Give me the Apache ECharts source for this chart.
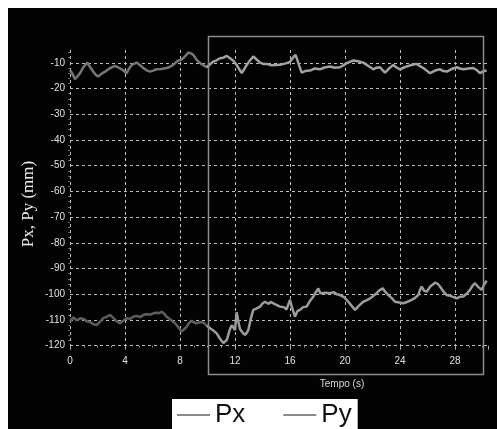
<!DOCTYPE html>
<html>
<head>
<meta charset="utf-8">
<script src="https://cdn.jsdelivr.net/npm/echarts@6/dist/echarts.min.js"></script>
<style>
html,body{margin:0;padding:0;background:#fff;}
#c{width:497px;height:429px;}
</style>
</head>
<body>
<div id="c"></div>
<script>
// ---- data ----
var pyTime = [0.0,0.2,0.36,0.55,0.73,1.0,1.26,1.45,1.69,1.9,2.06,2.3,2.55,2.9,3.27,3.5,3.76,3.95,4.12,4.3,4.49,4.85,5.1,5.33,5.6,5.82,6.05,6.3,6.65,7.03,7.25,7.51,7.7,7.88,8.05,8.24,8.45,8.6,8.8,8.97,9.15,9.33,9.6,9.94,10.2,10.42,10.65,10.91,11.15,11.4,11.64,11.88,12.12,12.3,12.49,12.65,12.85,13.1,13.33,13.55,13.82,14.05,14.3,14.6,15.03,15.4,15.76,16.0,16.24,16.4,16.49,16.65,16.85,17.1,17.45,17.8,18.18,18.5,18.91,19.25,19.64,19.9,20.12,20.35,20.6,20.95,21.33,21.7,22.06,22.3,22.55,22.75,22.91,23.2,23.51,23.75,24.0,24.25,24.49,24.85,25.21,25.45,25.69,25.95,26.18,26.55,26.91,27.15,27.4,27.75,28.12,28.35,28.6,29.0,29.33,29.6,29.82,30.05,30.3];
var pyVal = [-12.7,-14.5,-16.3,-15.2,-14.0,-11.5,-9.9,-11.6,-13.4,-14.8,-15.3,-14.2,-13.4,-12.1,-11.2,-11.8,-12.5,-13.3,-14.0,-12.2,-10.8,-9.9,-10.9,-12.0,-13.0,-13.4,-13.0,-12.5,-12.4,-12.0,-11.6,-10.8,-9.8,-9.1,-8.9,-8.2,-7.0,-6.0,-6.3,-6.9,-8.4,-9.5,-10.6,-11.7,-10.5,-9.5,-9.0,-8.2,-8.0,-7.3,-8.2,-9.2,-10.8,-12.4,-14.0,-12.6,-10.8,-9.0,-7.5,-8.6,-9.9,-10.4,-10.4,-10.9,-10.8,-10.6,-10.1,-9.6,-7.8,-6.9,-8.2,-10.8,-13.8,-13.2,-13.0,-12.2,-12.5,-11.8,-11.4,-11.9,-11.7,-10.9,-10.1,-9.6,-9.1,-9.4,-9.9,-11.2,-12.5,-11.9,-11.7,-12.9,-13.8,-12.2,-10.8,-11.8,-12.5,-11.9,-11.4,-10.8,-10.4,-11.3,-12.0,-13.1,-14.0,-13.0,-12.5,-13.2,-13.4,-12.4,-11.7,-12.2,-12.5,-12.2,-12.0,-12.9,-14.0,-13.3,-13.0];

var pxTime = [0.0,0.25,0.5,0.73,1.0,1.21,1.45,1.7,1.94,2.2,2.42,2.65,2.91,3.15,3.4,3.64,3.9,4.12,4.4,4.6,4.85,5.1,5.35,5.58,5.85,6.05,6.3,6.5,6.67,6.85,7.03,7.3,7.64,7.9,8.12,8.3,8.49,8.65,8.85,9.0,9.21,9.45,9.69,9.95,10.18,10.4,10.67,10.9,11.15,11.28,11.4,11.52,11.64,11.76,11.88,12.0,12.12,12.24,12.36,12.55,12.73,12.85,12.97,13.15,13.33,13.55,13.82,14.0,14.18,14.45,14.6,14.79,15.05,15.27,15.55,15.75,15.88,16.0,16.12,16.36,16.55,16.73,16.95,17.21,17.45,17.7,17.9,18.06,18.2,18.3,18.6,18.91,19.2,19.4,19.64,19.95,20.24,20.5,20.73,21.0,21.33,21.6,21.82,22.05,22.3,22.5,22.74,22.95,23.15,23.4,23.64,23.95,24.24,24.55,24.85,25.1,25.33,25.45,25.58,25.75,25.94,26.2,26.55,26.75,26.91,27.15,27.4,27.75,28.12,28.35,28.6,28.85,29.09,29.3,29.45,29.7,29.94,30.1,30.3];
var pxVal = [-110.5,-109.0,-110.2,-109.3,-109.6,-110.5,-110.8,-111.6,-112.0,-110.6,-109.3,-108.8,-108.0,-109.2,-110.5,-111.3,-110.2,-109.3,-109.5,-108.7,-108.4,-108.9,-108.0,-107.8,-107.9,-107.4,-107.2,-107.3,-106.8,-107.6,-108.7,-109.8,-111.3,-113.0,-114.5,-113.6,-112.6,-111.2,-110.3,-110.9,-111.3,-110.8,-111.0,-112.2,-113.2,-114.0,-115.2,-117.2,-119.0,-118.6,-117.8,-115.6,-113.5,-112.0,-111.3,-113.9,-107.0,-110.5,-113.5,-114.9,-115.8,-115.0,-113.9,-109.5,-106.1,-105.6,-104.8,-103.6,-102.9,-103.7,-103.0,-103.5,-104.2,-104.8,-105.0,-105.9,-106.1,-102.2,-104.6,-108.7,-106.5,-106.1,-105.0,-104.8,-102.6,-100.9,-99.0,-97.7,-99.6,-100.3,-99.4,-99.6,-99.2,-100.0,-100.3,-101.2,-102.9,-104.6,-106.1,-104.5,-102.9,-102.3,-101.6,-100.7,-99.6,-98.5,-97.7,-99.2,-100.3,-101.5,-102.9,-103.2,-103.5,-102.9,-102.2,-101.4,-100.3,-98.4,-97.0,-98.6,-99.0,-97.0,-95.5,-96.0,-97.0,-98.9,-100.3,-100.8,-101.6,-101.0,-100.9,-99.8,-98.3,-96.5,-95.7,-97.2,-98.3,-96.4,-94.7];

var seriesNames = ['Px', 'Py'];
var selection = [10.05, 30.07];   // highlighted time window (s)
var xTickMax = 30.4;
var yMin = -120, yMax = -5;

// split a series into the part before the highlighted window and the part inside it (sharing one joint point)
function splitAt(t, v, cut) {
  var before = [], after = [];
  var k = 0;
  while (k < t.length && t[k] < cut) k++;
  for (var i = 0; i < t.length; i++) {
    if (i <= k) before.push([t[i], v[i]]);
    if (i >= k - 1) after.push([t[i], v[i]]);
  }
  return [before, after];
}
var pxParts = splitAt(pxTime, pxVal, selection[0]);
var pyParts = splitAt(pyTime, pyVal, selection[0]);

var chart = echarts.init(document.getElementById('c'), null, {renderer: 'canvas'});
var gridColor = '#bdbdbd';
var font = 'Liberation Sans, Arial, sans-serif';
function lineSeries(name, data, color) {
  return {name: name, type: 'line', showSymbol: false, data: data, silent: true,
          lineStyle: {width: 2.5, color: color}, itemStyle: {color: color}};
}
var option = {
  backgroundColor: '#030303',
  animation: false,
  grid: {left: 70, right: 9, top: 50, bottom: 83.3},
  xAxis: {
    type: 'value', min: 0, max: xTickMax, interval: 4,
    name: 'Tempo (s)', nameLocation: 'middle', nameGap: 34,
    nameTextStyle: {color: '#dcdcdc', fontSize: 10, fontFamily: font, padding: [0, 0, 0, 126]},
    axisLine: {show: false},
    axisTick: {show: true, length: 4, lineStyle: {color: '#aaa', type: 'dashed'}},
    minorTick: {show: true, splitNumber: 4, length: 2, lineStyle: {color: '#888'}},
    axisLabel: {color: '#e0e0e0', fontSize: 10, fontFamily: font, margin: 11, showMaxLabel: false},
    splitLine: {show: true, showMaxLine: false, lineStyle: {color: gridColor, type: [3, 3], width: 1}}
  },
  yAxis: {
    type: 'value', min: yMin, max: yMax, interval: 10,
    axisLine: {show: false},
    axisTick: {show: false},
    minorTick: {show: true, splitNumber: 5, length: 2, lineStyle: {color: '#666'}},
    axisLabel: {color: '#e0e0e0', fontSize: 10, fontFamily: font, margin: 5, showMaxLabel: false},
    splitLine: {show: true, showMaxLine: false, lineStyle: {color: gridColor, type: [3, 3], width: 1}}
  },
  legend: {
    left: 172, top: 399,
    backgroundColor: '#ffffff',
    padding: [3, 6, 10, 5],
    itemWidth: 33, itemHeight: 2, itemGap: 38,
    icon: 'rect',
    textStyle: {color: '#111', fontSize: 26, fontFamily: 'Liberation Sans, Arial'},
    data: [
      {name: seriesNames[0], itemStyle: {color: '#8a8a8a'}},
      {name: seriesNames[1], itemStyle: {color: '#8a8a8a'}}
    ]
  },
  series: [
    lineSeries(seriesNames[0], pxParts[0], '#5e5e5e'),
    lineSeries(seriesNames[0], pxParts[1], '#9c9c9c'),
    lineSeries(seriesNames[1], pyParts[0], '#767676'),
    lineSeries(seriesNames[1], pyParts[1], '#a2a2a2')
  ]
};
chart.setOption(option);

var x1 = chart.convertToPixel({xAxisIndex: 0}, selection[0]);
var x2 = chart.convertToPixel({xAxisIndex: 0}, selection[1]);
var yTop = chart.convertToPixel({yAxisIndex: 0}, yMax) - 14;
var yBot = chart.convertToPixel({yAxisIndex: 0}, yMin) + 28;
chart.setOption({
  graphic: [
    {type: 'rect', silent: true, z: 100, shape: {x: 0, y: 0, width: 497, height: 8}, style: {fill: '#ffffff'}},
    {type: 'rect', silent: true, z: 100, shape: {x: 0, y: 0, width: 8, height: 429}, style: {fill: '#ffffff'}},
    {type: 'rect', silent: true, z: 50, shape: {x: Math.round(x1) + 0.5, y: Math.round(yTop) + 0.5, width: Math.round(x2 - x1), height: Math.round(yBot - yTop)},
     style: {fill: 'none', stroke: '#8c8c8c', lineWidth: 1.5}},
    {type: 'text', silent: true, z: 60, x: 29, y: 204, rotation: Math.PI / 2,
     style: {text: 'Px, Py (mm)', fill: '#eeeeee', font: '17px "Liberation Serif", "Times New Roman", serif', align: 'center', verticalAlign: 'middle'}}
  ]
});
</script>
</body>
</html>
